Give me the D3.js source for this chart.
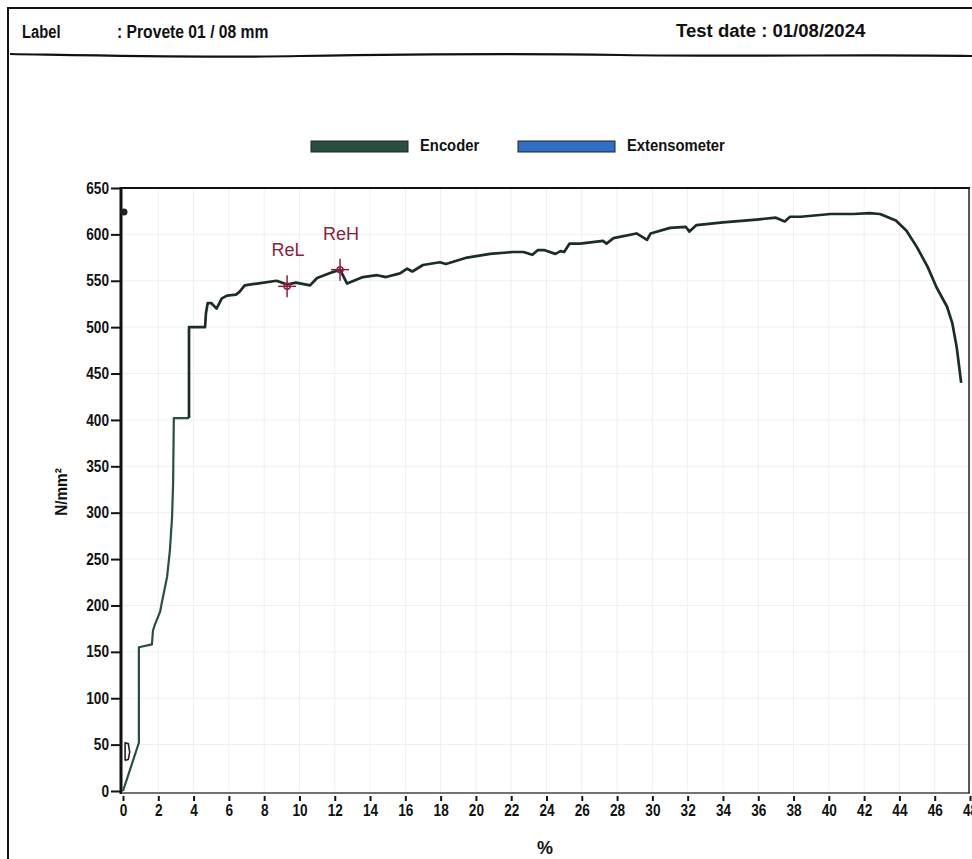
<!DOCTYPE html>
<html><head><meta charset="utf-8">
<script src="https://cdn.jsdelivr.net/npm/d3@7"></script>
<style>
html,body{margin:0;padding:0;background:#fff;}
svg{display:block;}
text{font-family:"Liberation Sans Narrow","Arial Narrow","Liberation Sans",Arial,sans-serif;fill:#111;}
</style></head>
<body><svg id="c" width="972" height="859"></svg>
<script>
// ---- data ----
const strain = [0, 0.9, 0.9, 1.64, 1.7, 1.8, 2.1, 2.2, 2.5, 2.66, 2.78, 2.84, 2.86, 2.88, 3.74, 3.74, 4.65, 4.7, 4.8, 5.0, 5.3, 5.6, 5.9, 6.4, 6.6, 6.9, 7.6, 8.7, 9.3, 9.8, 10.6, 11.0, 11.7, 12.3, 12.7, 13.6, 14.4, 14.9, 15.7, 16.1, 16.4, 17.0, 17.96, 18.3, 19.5, 20.8, 22.1, 22.7, 23.2, 23.5, 23.9, 24.5, 24.8, 25.0, 25.3, 25.9, 27.2, 27.4, 27.8, 29.1, 29.7, 29.9, 31.0, 31.9, 32.1, 32.5, 34.0, 35.9, 37.0, 37.5, 37.8, 38.4, 40.1, 41.4, 42.3, 42.9, 43.8, 44.4, 45.0, 45.6, 46.1, 46.7, 47.0, 47.25, 47.5];
const stress = [0, 52, 155, 158, 173, 179, 193, 203, 231, 260, 295, 332, 367, 402, 402, 500, 500, 515, 526, 526, 520, 531, 534, 535, 538, 545, 547, 550, 546, 548, 545, 553, 558, 562, 547, 554, 556, 554, 558, 563, 560, 567, 570, 568, 575, 579, 581, 581, 578, 583, 583, 579, 582, 581, 590, 590, 593, 590, 596, 601, 594, 601, 607, 608, 603, 610, 613, 616, 618, 614, 619, 619, 622, 622, 623, 622, 615, 604, 586, 565, 543, 522, 504, 478, 440];
const markerNames = ["ReL", "ReH"];
const markerX = [9.3, 12.3];
const markerY = [544, 562];
const xTicks = [0,2,4,6,8,10,12,14,16,18,20,22,24,26,28,30,32,34,36,38,40,42,44,46,48];
const yTicks = [0,50,100,150,200,250,300,350,400,450,500,550,600,650];
const legendNames = ["Encoder", "Extensometer"];
const legendColors = ["#2a4f3e", "#2f6fc4"];
const headerLabel = "Label";
const headerValue = ": Provete 01 / 08 mm";
const headerDate = "Test date : 01/08/2024";
const xTitle = "%";
const yTitle = "N/mm²";
const startDot = [0, 624];
const dMarkX = [0.12, 0.12, 0.3, 0.38, 0.3, 0.12];
const dMarkY = [33, 52, 51, 42, 34, 33];

// ---- layout ----
const svg = d3.select("#c");
const x = d3.scaleLinear().domain([0, 48]).range([123, 970]);
const y = d3.scaleLinear().domain([0, 650]).range([791, 188]);

function condense(sel, k) {
  sel.each(function(){
    const w = this.getComputedTextLength();
    d3.select(this).attr("textLength", w*k).attr("lengthAdjust","spacingAndGlyphs");
  });
}

// outer page frame
svg.append("path").attr("d","M8,859 L8,8 L972,8").attr("fill","none").attr("stroke","#111").attr("stroke-width",2);
// wavy header rule
svg.append("path").attr("d","M10,54 C120,56 200,58 300,56 C420,54 500,53 620,55 C760,57 860,54 972,56")
  .attr("fill","none").attr("stroke","#111").attr("stroke-width",2.2);

// header text
condense(svg.append("text").attr("x",22).attr("y",38).attr("font-size",18).attr("font-weight","bold").text(headerLabel), 0.82);
condense(svg.append("text").attr("x",117).attr("y",38).attr("font-size",18).attr("font-weight","bold").text(headerValue), 0.87);
condense(svg.append("text").attr("x",676).attr("y",37).attr("font-size",18).attr("font-weight","bold").text(headerDate), 1.03);

// legend
const legX = [311, 518];
legendNames.forEach((n,i)=>{
  svg.append("rect").attr("x",legX[i]).attr("y",141).attr("width",97).attr("height",11)
    .attr("fill",legendColors[i]).attr("stroke","#222").attr("stroke-width",1);
  condense(svg.append("text").attr("x",legX[i]+109).attr("y",151).attr("font-size",17).attr("font-weight","bold").text(n), 0.87);
});

// grid
const g = svg.append("g");
g.selectAll(".vg").data(xTicks.slice(1)).join("line")
  .attr("x1",d=>x(d)).attr("x2",d=>x(d)).attr("y1",y(650)).attr("y2",y(0))
  .attr("stroke","#efefef").attr("stroke-width",1);
g.selectAll(".hg").data(yTicks.slice(1,-1)).join("line")
  .attr("x1",x(0)).attr("x2",x(48)).attr("y1",d=>y(d)).attr("y2",d=>y(d))
  .attr("stroke","#efefef").attr("stroke-width",1);

// axes
const FF = '"Liberation Sans Narrow","Arial Narrow","Liberation Sans",Arial,sans-serif';
const xAxis = d3.axisBottom(x).tickValues(xTicks).tickSize(8).tickPadding(4).tickFormat(d3.format("d"));
const yAxis = d3.axisLeft(y).tickValues(yTicks).tickSize(10).tickPadding(1).tickFormat(d3.format("d"));
const gx = svg.append("g").attr("transform",`translate(0,${y(0)+2})`).call(xAxis);
gx.select(".domain").attr("stroke","#444").attr("stroke-width",1.5).attr("d",`M${x(0)},0H${x(48)}`);
gx.selectAll(".tick line").attr("stroke","#111").attr("stroke-width",2).attr("y1",3);
gx.selectAll(".tick text").attr("font-size",16).attr("font-weight","bold").attr("fill","#111").style("font-family",FF);
condense(gx.selectAll(".tick text"), 0.85);
const gy = svg.append("g").attr("transform",`translate(${x(0)-3},0)`).call(yAxis);
gy.select(".domain").remove();
gy.selectAll(".tick line").attr("stroke","#111").attr("stroke-width",2).attr("x2",-9);
gy.selectAll(".tick text").attr("font-size",16).attr("font-weight","bold").attr("fill","#111").style("font-family",FF);
condense(gy.selectAll(".tick text"), 0.85);

// frame
svg.append("line").attr("x1",x(0)-2).attr("x2",x(0)-2).attr("y1",y(650)-1).attr("y2",y(0)+3).attr("stroke","#111").attr("stroke-width",3);
svg.append("line").attr("x1",x(0)-2).attr("x2",x(48)).attr("y1",y(650)).attr("y2",y(650)).attr("stroke","#111").attr("stroke-width",2.2);
svg.append("line").attr("x1",x(48)-1).attr("x2",x(48)-1).attr("y1",y(650)).attr("y2",y(0)+2).attr("stroke","#222").attr("stroke-width",1.5);

// titles
svg.append("text").attr("x",545).attr("y",854).attr("text-anchor","middle").attr("font-size",18).attr("font-weight","bold").text(xTitle);
condense(svg.append("text").attr("transform","translate(67,492) rotate(-90)").attr("text-anchor","middle").attr("font-size",17).attr("font-weight","bold").text(yTitle), 0.9);

// curve: lower steep part drawn thinner/greener, upper part darker and heavier (as in the print)
const pts = strain.map((s,i)=>[s, stress[i]]);
const line = d3.line().x(d=>x(d[0])).y(d=>y(d[1]));
const splitIdx = 14;
svg.append("path").datum(pts.slice(0, splitIdx+1)).attr("d",line).attr("fill","none")
  .attr("stroke","#28503d").attr("stroke-width",2.2).attr("stroke-linejoin","round");
svg.append("path").datum(pts.slice(splitIdx)).attr("d",line).attr("fill","none")
  .attr("stroke","#1a2e24").attr("stroke-width",2.7).attr("stroke-linejoin","round");

// small start marks
svg.append("circle").attr("cx",x(startDot[0])+1).attr("cy",y(startDot[1])).attr("r",3.5).attr("fill","#222");
svg.append("path").datum(dMarkX.map((v,i)=>[v,dMarkY[i]])).attr("d",line).attr("fill","none").attr("stroke","#222").attr("stroke-width",1.6);

// ReL / ReH markers
const mc = "#8e1e3c";
markerNames.forEach((n,i)=>{
  const cx = x(markerX[i]), cy = y(markerY[i]);
  svg.append("line").attr("x1",cx-9).attr("x2",cx+9).attr("y1",cy).attr("y2",cy).attr("stroke",mc).attr("stroke-width",1.5);
  svg.append("line").attr("x1",cx).attr("x2",cx).attr("y1",cy-11).attr("y2",cy+11).attr("stroke",mc).attr("stroke-width",1.5);
  svg.append("circle").attr("cx",cx).attr("cy",cy).attr("r",3).attr("fill","none").attr("stroke",mc).attr("stroke-width",1.5);
  svg.append("text").attr("x",cx+1).attr("y",cy-30).attr("text-anchor","middle").attr("font-size",18)
    .style("fill",mc).text(n);
});
</script></body></html>
